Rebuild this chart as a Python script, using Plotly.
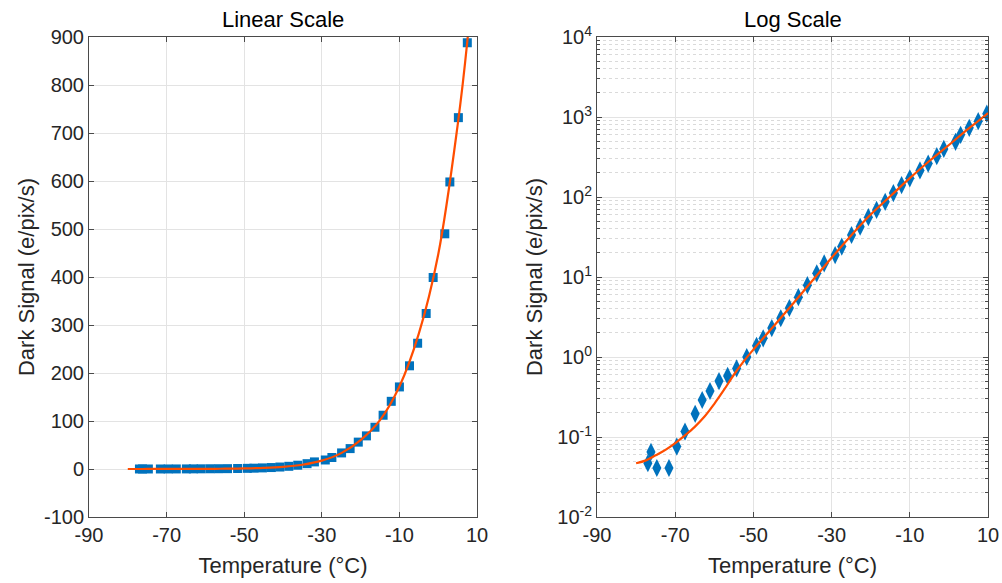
import plotly.graph_objects as go

# ---- measured data (temperature in °C, dark signal in e/pix/s) ----
temps = [-77.0, -76.2, -74.7, -71.6, -69.6, -67.5, -64.9, -63.1, -61.1, -58.8,
         -56.6, -54.3, -51.7, -49.2, -47.5, -45.3, -43.0, -40.8, -38.5, -36.2,
         -33.8, -31.9, -29.1, -27.4, -24.9, -22.7, -20.6, -18.5, -16.3, -14.2,
         -12.1, -10.0, -7.4, -5.3, -3.1, -1.3, 1.7, 3.0, 5.2, 7.5, 9.7]
signal = [0.047, 0.065, 0.041, 0.041, 0.076, 0.117, 0.195, 0.29, 0.376, 0.50,
          0.58, 0.72, 1.0, 1.38, 1.71, 2.3, 3.05, 4.1, 5.6, 7.9,
          11.1, 14.8, 18.8, 24.0, 33.5, 42.5, 56.0, 69.0, 87.0, 112.0,
          141.0, 171.0, 215.0, 262.0, 324.0, 399.0, 490.0, 598.0, 732.0, 888.0, 1100.0]

# ---- fitted curve ----
fit_t = [-80, -77.5, -75, -72.5, -70, -67.5, -65, -62.5, -60, -57.5, -55, -52.5,
         -50, -45, -40, -35, -30, -25, -20, -15, -10, -5, 0, 5, 7.5, 10]
fit_v = [0.047, 0.051, 0.059, 0.069, 0.084, 0.105, 0.134, 0.18, 0.26, 0.39, 0.60, 0.88,
         1.24, 2.37, 4.57, 8.9, 17.4, 33.1, 60.3, 102, 172, 282, 447, 716, 891, 1122]

x_ticks = [-90, -70, -50, -30, -10, 10]
x_tick_text = ["-90", "-70", "-50", "-30", "-10", "10"]
lin_ticks = [-100, 0, 100, 200, 300, 400, 500, 600, 700, 800, 900]
lin_tick_text = ["-100", "0", "100", "200", "300", "400", "500", "600", "700", "800", "900"]
log_ticks = [0.01, 0.1, 1, 10, 100, 1000, 10000]
log_tick_text = ["10<sup>-2</sup>", "10<sup>-1</sup>", "10<sup>0</sup>", "10<sup>1</sup>",
                 "10<sup>2</sup>", "10<sup>3</sup>", "10<sup>4</sup>"]

BLUE = "#0072BD"
RED = "#FF4D00"
FONT = "Liberation Sans, Arial, Helvetica, sans-serif"
AX = "#4a4a4a"
TXT = "#262626"

fig = go.Figure()

fig.add_trace(go.Scatter(x=temps, y=signal, mode="markers", xaxis="x", yaxis="y",
                         marker=dict(symbol="square", size=9, color=BLUE),
                         showlegend=False))
fig.add_trace(go.Scatter(x=fit_t, y=fit_v, mode="lines", xaxis="x", yaxis="y",
                         line=dict(color=RED, width=2.2, shape="spline"),
                         showlegend=False))
fig.add_trace(go.Scatter(x=temps, y=signal, mode="markers", xaxis="x2", yaxis="y2",
                         marker=dict(symbol="diamond-tall", size=13, color=BLUE),
                         showlegend=False))
fig.add_trace(go.Scatter(x=fit_t, y=fit_v, mode="lines", xaxis="x2", yaxis="y2",
                         line=dict(color=RED, width=2.2, shape="spline"),
                         showlegend=False))

minor_vals = [m * 10.0 ** e for e in range(-2, 4) for m in range(2, 10)]

common_x = dict(range=[-90, 10], tickvals=x_ticks, ticktext=x_tick_text,
                showgrid=True, gridcolor="#e3e3e3",
                zeroline=False, showline=True, linecolor=AX, mirror="ticks",
                ticks="inside", ticklen=5, tickcolor=AX, automargin=False,
                tickfont=dict(size=20, color=TXT, family=FONT),
                title=dict(text="Temperature (°C)", font=dict(size=22, color=TXT, family=FONT),
                           standoff=12))

fig.update_layout(
    width=1002, height=583,
    margin=dict(l=89, r=14, t=37, b=66),
    paper_bgcolor="white", plot_bgcolor="white",
    font=dict(family=FONT, color=TXT),
    xaxis=dict(domain=[0, 0.4316], anchor="y", **common_x),
    xaxis2=dict(domain=[0.5651, 1], anchor="y2", **common_x),
    yaxis=dict(domain=[0, 1], anchor="x", range=[-100, 900],
               tickvals=lin_ticks, ticktext=lin_tick_text,
               showgrid=True, gridcolor="#e3e3e3", zeroline=False,
               showline=True, linecolor=AX, mirror="ticks", automargin=False,
               ticks="inside", ticklen=5, tickcolor=AX,
               tickfont=dict(size=20, color=TXT, family=FONT),
               title=dict(text="Dark Signal (e/pix/s)", font=dict(size=22, color=TXT, family=FONT),
                          standoff=3)),
    yaxis2=dict(domain=[0, 1], anchor="x2", type="log", range=[-2, 4],
                tickvals=log_ticks, ticktext=log_tick_text,
                showgrid=True, gridcolor="#e3e3e3", zeroline=False,
                showline=True, linecolor=AX, mirror="ticks", automargin=False,
                ticks="inside", ticklen=5, tickcolor=AX,
                minor=dict(tickvals=minor_vals, ticks="inside", ticklen=3, tickcolor=AX,
                           showgrid=True, gridcolor="#dadada", griddash="dot"),
                tickfont=dict(size=20, color=TXT, family=FONT),
                title=dict(text="Dark Signal (e/pix/s)", font=dict(size=22, color=TXT, family=FONT),
                           standoff=8)),
    annotations=[
        dict(text="Linear Scale", x=0.2158, y=1, xref="paper", yref="paper",
             xanchor="center", yanchor="bottom", yshift=3, showarrow=False,
             font=dict(size=22, color="black", family=FONT)),
        dict(text="Log Scale", x=0.78255, y=1, xref="paper", yref="paper",
             xanchor="center", yanchor="bottom", yshift=3, showarrow=False,
             font=dict(size=22, color="black", family=FONT)),
    ],
)

fig.write_html("out.html", config={"displayModeBar": False},
               post_script="document.body.style.margin='0';"
                           "document.body.style.overflow='hidden';")
